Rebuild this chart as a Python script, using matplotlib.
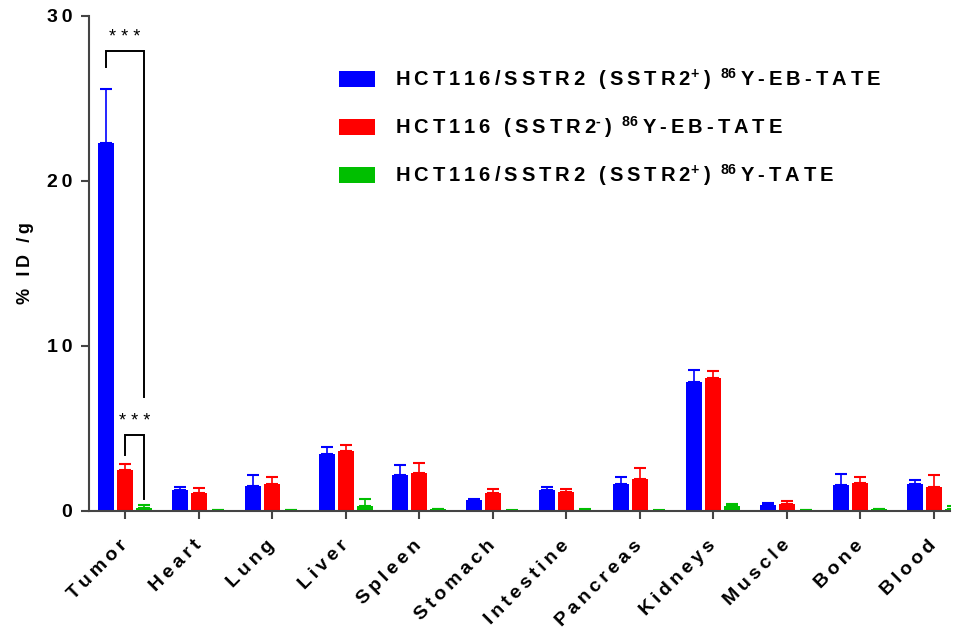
import numpy as np
import matplotlib.pyplot as plt
from matplotlib.patches import Patch
from matplotlib.transforms import ScaledTranslation

plt.rcParams['font.family'] = ['Liberation Sans', 'DejaVu Sans']
plt.rcParams['font.weight'] = 'bold'
plt.rcParams['mathtext.fontset'] = 'custom'
plt.rcParams['mathtext.rm'] = 'Liberation Sans:bold'
plt.rcParams['mathtext.bf'] = 'Liberation Sans:bold'
plt.rcParams['mathtext.default'] = 'rm'

# biodistribution, %ID/g (mean and upper error)
organs = ["Tumor", "Heart", "Lung", "Liver", "Spleen", "Stomach",
          "Intestine", "Pancreas", "Kidneys", "Muscle", "Bone", "Blood"]
eb_pos = [22.3, 1.29, 1.49, 3.43, 2.16, 0.65, 1.25, 1.62, 7.80, 0.34, 1.56, 1.62]
eb_pos_err = [3.3, 0.18, 0.69, 0.45, 0.65, 0.06, 0.18, 0.46, 0.75, 0.16, 0.68, 0.28]
eb_neg = [2.45, 1.10, 1.62, 3.62, 2.28, 1.07, 1.13, 1.92, 8.04, 0.40, 1.68, 1.43]
eb_neg_err = [0.37, 0.29, 0.46, 0.38, 0.65, 0.24, 0.18, 0.65, 0.44, 0.17, 0.36, 0.73]
tate_pos = [0.20, 0.04, 0.05, 0.28, 0.10, 0.02, 0.04, 0.02, 0.28, 0.06, 0.10, 0.10]
tate_pos_err = [0.13, 0.02, 0.02, 0.41, 0.04, 0.01, 0.10, 0.01, 0.16, 0.01, 0.04, 0.22]

colors = ["#0000FF", "#FF0000", "#00BF00"]

# significance brackets on the tumor group: (left bar, right bar, top, left leg end, right leg end)
sig_brackets = [(0, 2, 27.9, 26.9, 6.9), (1, 2, 4.6, 3.4, 0.7)]

THIN = "\u2009"
EN = "\u2002"


def spaced(s):
    # spread the letters out a bit, Prism style
    return THIN.join(s)


def legend_label(cell, sign, tracer):
    return (spaced(cell + " (SSTR2") + r"$^{\text{" + sign + "}}$" + THIN + ")" + EN
            + r"$^{86}$" + THIN + spaced(tracer))


labels = [legend_label("HCT116/SSTR2", "+", "Y-EB-TATE"),
          legend_label("HCT116", "-", "Y-EB-TATE"),
          legend_label("HCT116/SSTR2", "+", "Y-TATE")]

fig = plt.figure(figsize=(9.6, 6.37), dpi=100)
ax = fig.add_axes([0.0927, 0.198, 0.897, 0.777])

x = np.arange(len(organs))
step = 0.258
width = 0.218
series = [(eb_pos, eb_pos_err), (eb_neg, eb_neg_err), (tate_pos, tate_pos_err)]
for i, ((vals, errs), col) in enumerate(zip(series, colors)):
    xs = x + (i - 1) * step
    ax.bar(xs, vals, width, color=col, zorder=2)
    ax.errorbar(xs, vals, yerr=[np.zeros(len(vals)), errs], fmt="none",
                ecolor=col, elinewidth=1.2, capsize=4, capthick=1.5, zorder=1)

for a, b, top, la, lb in sig_brackets:
    xa, xb = (a - 1) * step, (b - 1) * step
    ax.plot([xa, xa, xb, xb], [la, top, top, lb], color="black", lw=1.4,
            solid_joinstyle="miter", zorder=3)
    ax.text((xa + xb) / 2, top + 0.3, "* * *", ha="center", va="bottom",
            fontsize=13, fontweight="normal")

ax.set_xlim(-0.49, 11.22)
ax.set_ylim(0, 30)
ax.set_yticks([0, 10, 20, 30])
ax.set_yticklabels([spaced(str(v)) for v in [0, 10, 20, 30]], fontsize=14, fontweight="bold")

# organ names drawn by hand so they can sit a little left of each tick
ax.set_xticks(x)
ax.set_xticklabels([])
lbl_trans = ax.get_xaxis_transform() + ScaledTranslation(-6 / 100, -26 / 100, fig.dpi_scale_trans)
for xi, name in zip(x, organs):
    ax.text(xi, 0, spaced(name), transform=lbl_trans, rotation=45,
            rotation_mode="anchor", ha="right", va="top", fontsize=14,
            fontweight="bold")

ax.tick_params(axis="both", direction="out", length=6, width=1.5, color="#444444")
ax.tick_params(axis="y", pad=6)
ax.set_ylabel(spaced("% ID /g"), fontsize=13, fontweight="bold", labelpad=9)

for side in ["top", "right"]:
    ax.spines[side].set_visible(False)
for side in ["left", "bottom"]:
    ax.spines[side].set_linewidth(1.5)
    ax.spines[side].set_color("#444444")

handles = [Patch(facecolor=c, edgecolor="none") for c in colors]
ax.legend(handles, labels, loc="upper left", bbox_to_anchor=(0.29, 0.898),
          frameon=False, handlelength=1.8, handleheight=0.82,
          handletextpad=1.0, labelspacing=1.1, borderpad=0, borderaxespad=0,
          prop={"weight": "bold", "size": 14.5})

fig.savefig("out.png", dpi=100)
